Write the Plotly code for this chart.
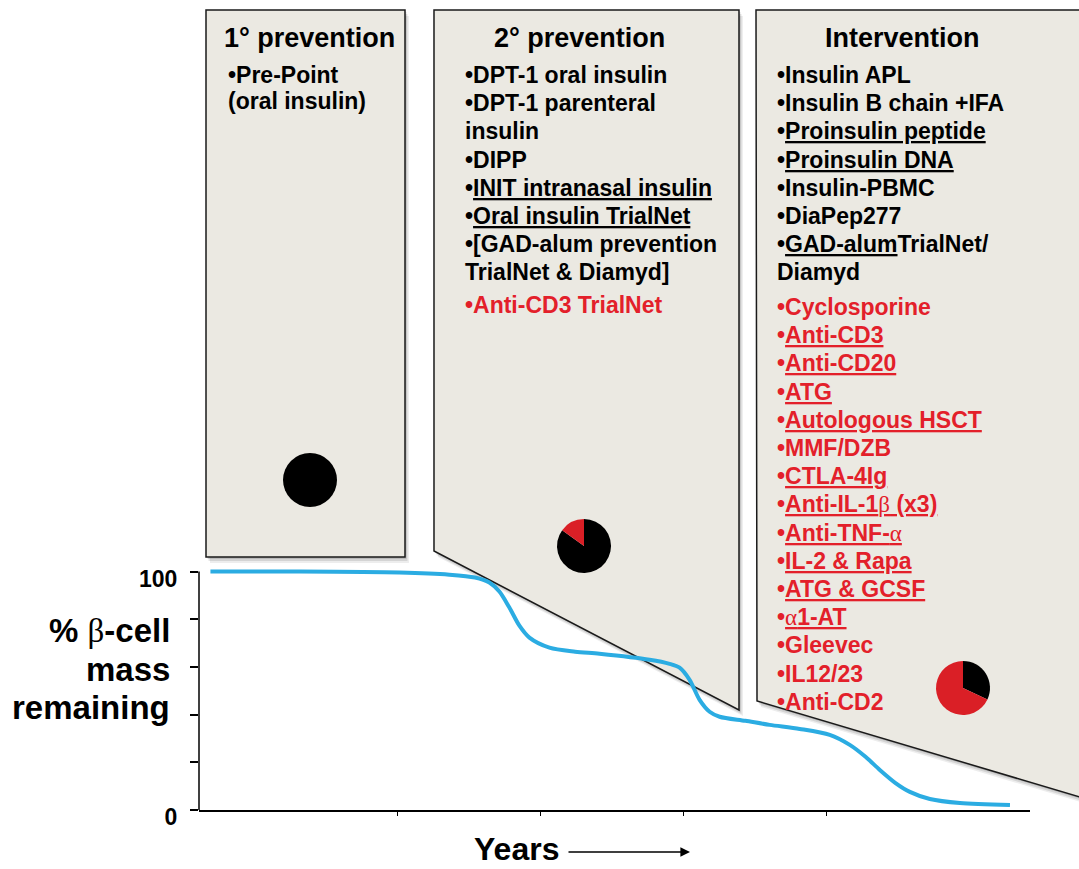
import plotly.graph_objects as go

W, H = 1079, 869
FONT = "Liberation Sans, Arial, sans-serif"
RED = "#E3202A"
PIE_RED = "#DA1F26"

# ---------------- data ----------------
years = [-0.31, 0.31, 1.01, 1.36, 1.54, 1.64, 1.71, 1.78, 1.85, 1.92, 2.06, 2.24,
         2.41, 2.76, 2.90, 2.97, 3.04, 3.11, 3.18, 3.25, 3.43, 3.60, 3.81, 4.02,
         4.16, 4.27, 4.37, 4.48, 4.58, 4.72, 4.93, 5.28]
beta_mass = [100, 100, 99.6, 98.7, 97.5, 95.4, 91.6, 84.9, 77.3, 72.3, 68.1, 66.4,
             65.5, 63.0, 61.3, 59.7, 54.6, 46.2, 41.2, 39.1, 37.4, 35.7, 34.0, 31.5,
             27.3, 22.3, 16.8, 11.3, 7.6, 4.6, 2.9, 2.1]

y_tickvals = [0, 20, 40, 60, 80, 100]
y_ticktext = ["0", "", "", "", "", "100"]
x_tickvals = [1, 2, 3, 4]

pie_primary_labels = ["Antigen-specific"]
pie_primary_values = [100]
pie_secondary_labels = ["Antigen-specific", "Immunotherapy"]
pie_secondary_values = [85, 15]
pie_interv_labels = ["Antigen-specific", "Immunotherapy"]
pie_interv_values = [32, 68]


def g(c):
    return '<span style="font-family:Liberation Serif;font-weight:normal">' + c + '</span>'


panel_titles = ["1° prevention", "2° prevention", "Intervention"]
primary_items = ["•Pre-Point", "(oral insulin)"]
secondary_black = ["•DPT-1 oral insulin", "•DPT-1 parenteral", "insulin", "•DIPP",
                   "•<u>INIT intranasal insulin</u>", "•<u>Oral insulin TrialNet</u>",
                   "•[GAD-alum prevention", "TrialNet & Diamyd]"]
secondary_red = ["•Anti-CD3 TrialNet"]
interv_black = ["•Insulin APL", "•Insulin B chain +IFA", "•<u>Proinsulin peptide</u>",
                "•<u>Proinsulin DNA</u>", "•Insulin-PBMC", "•DiaPep277",
                "•<u>GAD-alum</u>TrialNet/", "Diamyd"]
interv_red = ["•Cyclosporine", "•<u>Anti-CD3</u>", "•<u>Anti-CD20</u>", "•<u>ATG</u>",
              "•<u>Autologous HSCT</u>", "•MMF/DZB", "•<u>CTLA-4Ig</u>",
              "•<u>Anti-IL-1" + g("β") + " (x3)</u>", "•<u>Anti-TNF-" + g("α") + "</u>",
              "•<u>IL-2 & Rapa</u>", "•<u>ATG & GCSF</u>", "•<u>" + g("α") + "1-AT</u>",
              "•Gleevec", "•IL12/23", "•Anti-CD2"]
ylabel_lines = ["% " + g("β") + "-cell", "mass", "remaining"]
x_title = "Years"


def px(x):
    return x / W


def py(y):
    return 1 - y / H


def path(points):
    s = "M " + " L ".join(f"{px(a):.5f},{py(b):.5f}" for a, b in points) + " Z"
    return s


fig = go.Figure()

fig.add_trace(go.Scatter(x=years, y=beta_mass, mode="lines",
                         line=dict(color="#2BACE2", width=4, shape="spline", smoothing=0.8),
                         hoverinfo="skip"))


def pie_domain(cx, cy, r):
    return dict(x=[px(cx - r), px(cx + r)], y=[py(cy + r), py(cy - r)])


fig.add_trace(go.Pie(labels=pie_primary_labels, values=pie_primary_values,
                     marker=dict(colors=["#000000"], line=dict(width=0)),
                     textinfo="none", sort=False, domain=pie_domain(310, 480, 27),
                     hoverinfo="skip"))
fig.add_trace(go.Pie(labels=pie_secondary_labels, values=pie_secondary_values,
                     marker=dict(colors=["#000000", PIE_RED], line=dict(width=0)),
                     textinfo="none", sort=False, direction="clockwise",
                     domain=pie_domain(584, 546, 27), hoverinfo="skip"))
fig.add_trace(go.Pie(labels=pie_interv_labels, values=pie_interv_values,
                     marker=dict(colors=["#000000", PIE_RED], line=dict(width=0)),
                     textinfo="none", sort=False, direction="clockwise",
                     domain=pie_domain(963, 688, 27), hoverinfo="skip"))

# ---------------- panels ----------------
panels = [
    [(206, 10), (405, 10), (405, 557), (206, 557)],
    [(434, 10), (739, 10), (739, 710), (434, 551)],
    [(756, 10), (1090, 10), (1090, 800), (757, 701)],
]
shapes = []
for pts in panels:
    for (dx, dy, a) in [(4, 6, 0.07), (2.5, 4, 0.10), (1.5, 2, 0.12)]:
        shapes.append(dict(type="path", xref="paper", yref="paper", layer="below",
                           path=path([(a_ + dx, b_ + dy) for a_, b_ in pts]),
                           fillcolor=f"rgba(0,0,0,{a})", line=dict(width=0)))
    shapes.append(dict(type="path", xref="paper", yref="paper", layer="below",
                       path=path(pts), fillcolor="#EBE9E2",
                       line=dict(color="#1a1a1a", width=1.5)))
# y-axis line up to 100
shapes.append(dict(type="line", xref="x domain", yref="y", x0=0, x1=0, y0=0, y1=100,
                   line=dict(color="black", width=1.5)))

ann = []


def text(x, y, t, size=23, color="black", xanchor="left", yanchor="middle"):
    ann.append(dict(x=px(x), y=py(y), xref="paper", yref="paper", text="<b>" + t + "</b>",
                    showarrow=False, xanchor=xanchor, yanchor=yanchor,
                    font=dict(family=FONT, size=size, color=color)))


title_x = [309, 579, 902]
for t, x in zip(panel_titles, title_x):
    text(x, 38, t, size=27, xanchor="center")

STEP = 28.2
for i, t in enumerate(primary_items):
    text(226, 75 + i * 26, t)
for i, t in enumerate(secondary_black):
    text(463, 75 + i * STEP, t)
for i, t in enumerate(secondary_red):
    text(463, 305 + i * STEP, t, color=RED)
for i, t in enumerate(interv_black):
    text(775, 75 + i * STEP, t)
for i, t in enumerate(interv_red):
    text(775, 307 + i * STEP, t, color=RED)

for t, y in zip(ylabel_lines, [630, 669, 707]):
    text(172, y, t, size=33, xanchor="right")

text(516, 869, x_title, size=32, xanchor="center", yanchor="bottom")
ann.append(dict(x=px(690), y=py(852), xref="paper", yref="paper", text="",
                showarrow=True, ax=-123, ay=0, arrowhead=2, arrowsize=1.2,
                arrowwidth=1.6, arrowcolor="black"))

fig.update_layout(
    width=W, height=H, margin=dict(l=0, r=0, t=0, b=0, autoexpand=False),
    paper_bgcolor="white", plot_bgcolor="rgba(0,0,0,0)", showlegend=False,
    shapes=shapes, annotations=ann,
    xaxis=dict(domain=[199 / W, 1030 / W], range=[-0.39, 5.42], tickvals=x_tickvals,
               showticklabels=False, ticks="outside", ticklen=4, tickwidth=1.2,
               tickcolor="black", showline=True, linecolor="black", linewidth=1.5,
               showgrid=False, zeroline=False, fixedrange=True, automargin=False),
    yaxis=dict(domain=[1 - 810 / H, 1 - 562 / H], range=[0, 104], tickvals=y_tickvals,
               ticktext=["<b>" + t + "</b>" if t else "" for t in y_ticktext],
               ticks="outside", ticklen=8, tickwidth=1.5, tickcolor="black",
               ticklabelstandoff=8, ticklabelshift=7,
               tickfont=dict(family=FONT, size=23, color="black"),
               showline=False, showgrid=False, zeroline=False, fixedrange=True,
               automargin=False),
)

post = ("var s=[document.documentElement,document.body];"
        "for(var i=0;i<s.length;i++){s[i].style.margin='0px';s[i].style.padding='0px';"
        "s[i].style.overflow='hidden';}")
fig.write_html("out.html", config={"displayModeBar": False}, post_script=post)
